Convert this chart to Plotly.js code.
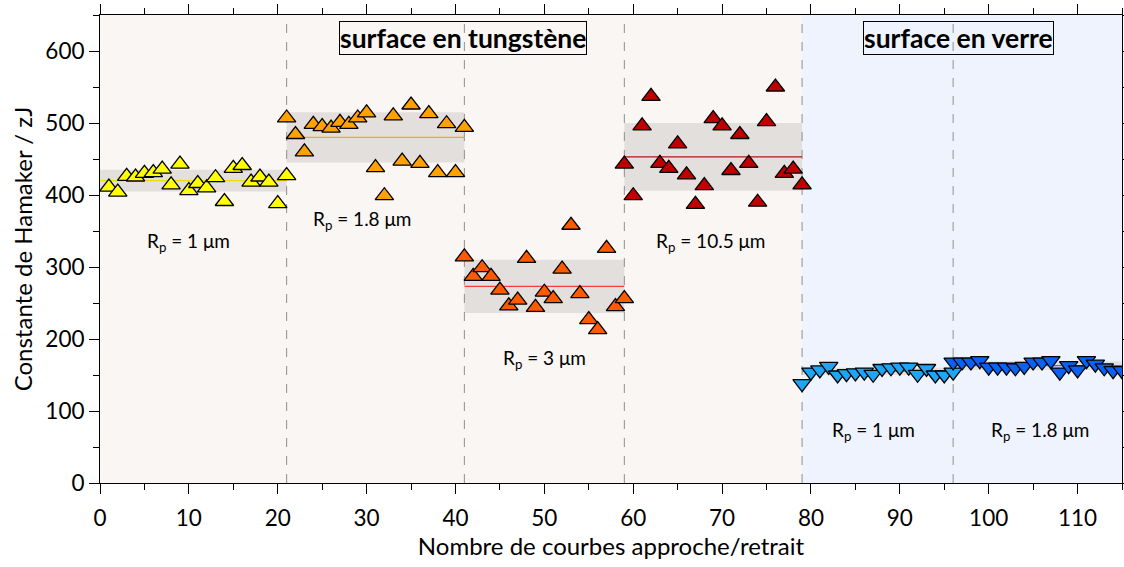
<!DOCTYPE html>
<html><head><meta charset="utf-8">
<script src="https://cdn.plot.ly/plotly-3.0.1.min.js"></script>
<style>html,body{margin:0;padding:0;background:#fff}#chart{width:1124px;height:567px}</style>
</head><body><div id="chart"></div>
<script>
// ---- data ----
const seg1X = [1,2,3,4,5,6,7,8,9,10,11,12,13,14,15,16,17,18,19,20,21];
const seg1Y = [411,404,426,425,430,431,436,414,443,406,416,410,424,391,437,441,418,425,418,388,427];
const seg2X = [21,22,23,24,25,26,27,28,29,30,31,32,33,34,35,36,37,38,39,40,41];
const seg2Y = [507,484,460,498,495,493,501,498,507,514,438,399,510,447,525,444,513,431,499,431,494];
const seg3X = [41,42,43,44,45,46,47,48,49,50,51,52,53,54,55,56,57,58,59];
const seg3Y = [314,287,299,287,268,246,254,312,244,265,256,297,358,263,227,213,326,245,256];
const seg4X = [59,60,61,62,63,64,65,66,67,68,69,70,71,72,73,74,75,76,77,78,79];
const seg4Y = [443,399,496,537,444,437,471,428,387,413,506,496,434,484,444,390,502,550,430,436,414];
const seg5X = [79,80,81,82,83,84,85,86,87,88,89,90,91,92,93,94,95,96];
const seg5Y = [138,154,157,162,150,152,153,154,151,159,160,161,161,151,159,150,150,154];
const seg6X = [96,97,98,99,100,101,102,103,104,105,106,107,108,109,110,111,112,113,114,115];
const seg6Y = [168,168,168,170,161,161,161,160,162,168,168,170,154,163,157,170,165,160,156,156];

const segStart = [0, 21, 41, 59, 79, 96];
const segEnd   = [21, 41, 59, 79, 96, 115];
const segMean  = [420, 480, 273, 453, 155, 163];
const segStd   = [15, 35, 37, 47, 5, 6];
const segLabels = ["R<sub>p</sub> = 1 μm", "R<sub>p</sub> = 1.8 μm", "R<sub>p</sub> = 3 μm",
                   "R<sub>p</sub> = 10.5 μm", "R<sub>p</sub> = 1 μm", "R<sub>p</sub> = 1.8 μm"];
const surfaceLabels = ["surface en tungstène", "surface en verre"];
const surfaceStart = [0, 79];
const surfaceEnd = [79, 115];

// ---- styles ----
const fillColors = ["#ffff00", "#ffa200", "#ff5a00", "#c00000", "#1ea6f5", "#0a62f5"];
const lineColors = ["#e8e000", "#f5a623", "#ff3c3c", "#b01818", "#3aa8f0", "#2a70f0"];
const symbols = ["triangle-up","triangle-up","triangle-up","triangle-up","triangle-down","triangle-down"];
const surfaceBg = ["#f9f6f3", "#eef3fd"];
const FONT = "Lato, 'Open Sans', sans-serif";

const xs = [seg1X, seg2X, seg3X, seg4X, seg5X, seg6X];
const ys = [seg1Y, seg2Y, seg3Y, seg4Y, seg5Y, seg6Y];

const traces = [];
for (let i = 0; i < 6; i++) {
  traces.push({
    x: [segStart[i], segEnd[i]], y: [segMean[i], segMean[i]],
    mode: "lines", line: {color: lineColors[i], width: 1.3},
    hoverinfo: "skip", showlegend: false
  });
}
for (let i = 0; i < 6; i++) {
  traces.push({
    x: xs[i], y: ys[i], mode: "markers", showlegend: false,
    marker: {symbol: symbols[i], size: 16, color: fillColors[i],
             line: {color: "#000", width: 1.3}}
  });
}

const shapes = [];
for (let i = 0; i < 2; i++) {
  shapes.push({type: "rect", xref: "x", yref: "y", layer: "below",
    x0: surfaceStart[i], x1: surfaceEnd[i], y0: 0, y1: 650,
    fillcolor: surfaceBg[i], line: {width: 0}});
}
for (let i = 0; i < 6; i++) {
  shapes.push({type: "rect", xref: "x", yref: "y", layer: "below",
    x0: segStart[i], x1: segEnd[i], y0: segMean[i] - segStd[i], y1: segMean[i] + segStd[i],
    fillcolor: "#e2dfdd", line: {width: 0}});
}
for (let i = 1; i < 6; i++) {
  shapes.push({type: "line", xref: "x", yref: "y", layer: "below",
    x0: segStart[i], x1: segStart[i], y0: 0, y1: 650,
    line: {color: "#8f8f8f", width: 1, dash: "dash"}});
}

const labelPos = [[10, 335], [29.5, 365], [50, 172], [68.7, 335], [87, 72], [105.8, 72]];
const annotations = segLabels.map((t, i) => ({
  x: labelPos[i][0], y: labelPos[i][1], xref: "x", yref: "y", text: t, showarrow: false,
  font: {family: FONT, size: 19, color: "#000"}
}));
const titlePos = [[40.8, 618], [96.6, 618]];
surfaceLabels.forEach((t, i) => annotations.push({
  x: titlePos[i][0], y: titlePos[i][1], xref: "x", yref: "y", text: "<b>" + t + "</b>",
  showarrow: false, bordercolor: "#000", borderwidth: 1, borderpad: 0,
  font: {family: FONT, size: 26.5, color: "#000"}
}));

const axisCommon = {
  showline: true, linecolor: "#000", linewidth: 1, mirror: "ticks",
  ticks: "outside", ticklen: 10, tickwidth: 1, tickcolor: "#000",
  showgrid: false, zeroline: false,
  tickfont: {family: FONT, size: 22.5, color: "#000"}
};

const layout = {
  width: 1124, height: 567,
  margin: {l: 100, r: 2, t: 15, b: 84},
  paper_bgcolor: "#fff", plot_bgcolor: "#fff",
  font: {family: FONT, color: "#000"},
  xaxis: Object.assign({}, axisCommon, {
    range: [0, 115], tick0: 0, dtick: 10, ticklabelstandoff: 5,
    minor: {dtick: 5, ticklen: 6, ticks: "outside", tickcolor: "#000"},
    title: {text: "Nombre de courbes approche/retrait", font: {family: FONT, size: 24, color: "#000"}, standoff: 5}
  }),
  yaxis: Object.assign({}, axisCommon, {
    range: [0, 650], tick0: 0, dtick: 100,
    minor: {dtick: 50, ticklen: 6, ticks: "outside", tickcolor: "#000"},
    title: {text: "Constante de Hamaker / zJ", font: {family: FONT, size: 24, color: "#000"}, standoff: 5}
  }),
  shapes: shapes,
  annotations: annotations,
  showlegend: false
};

Plotly.newPlot("chart", traces, layout, {displayModeBar: false, staticPlot: true});
</script></body></html>
